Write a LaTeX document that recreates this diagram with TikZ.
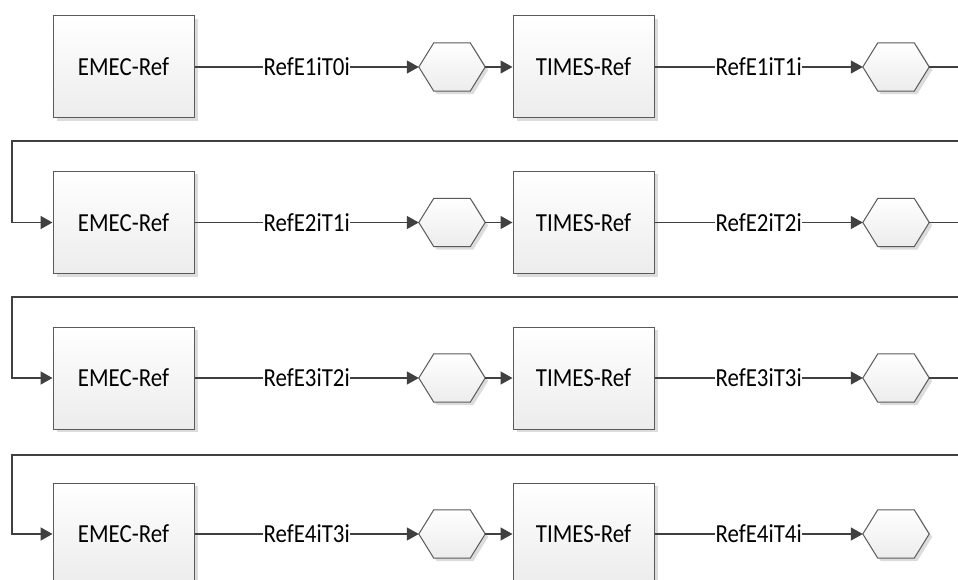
\documentclass[tikz,border=0pt]{standalone}
\usepackage{fontspec}
\setmainfont{Carlito}
\usetikzlibrary{arrows.meta}
\definecolor{linec}{HTML}{404040}
\definecolor{boxline}{HTML}{5A5A5A}
\definecolor{shadowc}{HTML}{DCDCDC}
\definecolor{fillbot}{HTML}{ECECEC}
\newcommand\lbl[1]{\scalebox{0.88}[1]{#1}}
\tikzset{
  x=1pt, y=1pt,
  every node/.style={font=\fontsize{26}{30}\selectfont, text=black},
  procbox/.style={draw=boxline, line width=1pt, minimum width=141pt, minimum height=102pt,
     inner sep=0pt, top color=white, bottom color=fillbot},
  hexhold/.style={minimum width=66pt, minimum height=48pt, inner sep=0pt, draw=none},
  hexline/.style={draw=boxline, line width=1pt, top color=white, bottom color=fillbot},
  conn/.style={draw=linec, line width=1.4pt, -{Triangle[length=12pt,width=13pt]}},
  retconn/.style={draw=linec, line width=1.8pt, -{Triangle[length=12pt,width=13pt]}},
  flowlbl/.style={fill=white, inner sep=0.5pt}
}
\newcommand\myhex[2]{%
  \node[hexhold] (#1) at (#2) {};
  \fill[shadowc] ([xshift=3,yshift=-3]#1.west) -- ([xshift=18,yshift=-3]#1.north west) -- ([xshift=-12,yshift=-3]#1.north east) -- ([xshift=3,yshift=-3]#1.east) -- ([xshift=-12,yshift=-3]#1.south east) -- ([xshift=18,yshift=-3]#1.south west) -- cycle;
  \path[hexline] (#1.west) -- ([xshift=15]#1.north west) -- ([xshift=-15]#1.north east) -- (#1.east) -- ([xshift=-15]#1.south east) -- ([xshift=15]#1.south west) -- cycle;
}
\newcommand\mybox[3]{%
  \fill[shadowc] (#2) ++(-66.5,-54) rectangle ++(141,102);
  \node[procbox] (#1) at (#2) {\lbl{#3}};
}
\begin{document}
\begin{tikzpicture}
\useasboundingbox (0,0) rectangle (958,-580);
\clip (0,0) rectangle (958,-580);
\fill[white] (0,0) rectangle (958,-580);
% rows
\foreach \r/\yy/\ta/\tb in {1/-67/RefE1iT0i/RefE1iT1i, 2/-222.5/RefE2iT1i/RefE2iT2i, 3/-378/RefE3iT2i/RefE3iT3i, 4/-534/RefE4iT3i/RefE4iT4i}{
  \mybox{e\r}{123.5,\yy}{EMEC-Ref}
  \mybox{t\r}{583.5,\yy}{TIMES-Ref}
  \myhex{ha\r}{452,\yy}
  \myhex{hb\r}{896,\yy}
  \draw[conn] (e\r.east) -- node[flowlbl]{\lbl{\ta}} (ha\r.west);
  \draw[conn] (ha\r.east) -- (t\r.west);
  \draw[conn] (t\r.east) -- node[flowlbl]{\lbl{\tb}} (hb\r.west);
}
% returns
\coordinate (r1) at (990,-141);
\coordinate (r2) at (990,-297);
\coordinate (r3) at (990,-455);
\coordinate (l1) at (12,-141);
\coordinate (l2) at (12,-297);
\coordinate (l3) at (12,-455);
\draw[retconn] (hb1.east) -| (r1) -- (l1) |- (e2.west);
\draw[retconn] (hb2.east) -| (r2) -- (l2) |- (e3.west);
\draw[retconn] (hb3.east) -| (r3) -- (l3) |- (e4.west);
\end{tikzpicture}
\end{document}
